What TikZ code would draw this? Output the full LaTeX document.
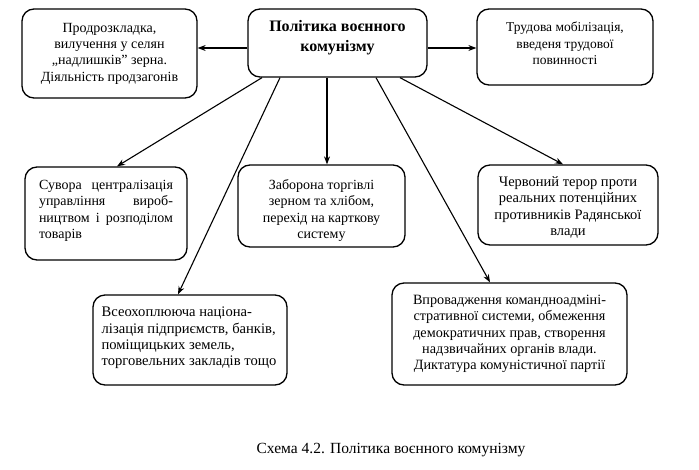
\documentclass[tikz,border=0pt]{standalone}
\usepackage{fontspec}
\setmainfont{Liberation Serif}
\usetikzlibrary{arrows.meta}
\begin{document}
\begin{tikzpicture}[x=1pt,y=-1pt,
  box/.style={draw, line width=1.3pt, rounded corners=12pt, inner sep=0pt},
  txt/.style={inner sep=0pt, font=\fontsize{#1}{16.3}\selectfont},
  ttl/.style={inner sep=0pt, font=\fontsize{16}{20}\selectfont\bfseries, align=center},
  capt/.style={inner sep=0pt, font=\fontsize{15.5}{18}\selectfont},
  arr/.style={line width=1.1pt, -{Stealth[length=8pt,width=6pt]}}]
\useasboundingbox (0,0) rectangle (699,469);
\fill[white] (0,0) rectangle (699,469);
% boxes
\node[box, minimum width=175pt, minimum height=89pt] (b1) at (109.5,53.5) {};
\node[box, minimum width=179pt, minimum height=68pt] (c) at (337.5,43) {};
\node[box, minimum width=176pt, minimum height=76pt] (b3) at (565,47) {};
\node[box, minimum width=162pt, minimum height=93pt] (b4) at (106,213.5) {};
\node[box, minimum width=167pt, minimum height=82pt] (b5) at (321.5,206) {};
\node[box, minimum width=180pt, minimum height=80pt] (b6) at (568,205) {};
\node[box, minimum width=194pt, minimum height=90pt] (b7) at (190,340) {};
\node[box, minimum width=235pt, minimum height=102pt] (b8) at (509.5,334) {};
% texts
\node[txt=14, align=center] (t1) at (b1.center) {Продрозкладка,\\вилучення у селян\\„надлишків” зерна.\\Діяльність продзагонів};
\node[ttl] (tc) at ([yshift=5pt]c.center) {Політика воєнного\\комунізму};
\node[txt=13.5, align=center] (t3) at ([yshift=3.5pt]b3.center) {Трудова мобілізація,\\введеня трудової\\повинності};
\node[txt=14, align=justify, text width=134pt] (t4) at ([yshift=2.5pt]b4.center) {Сувора централізація\linebreak управління вироб-\linebreak ництвом і розподілом\linebreak товарів};
\node[txt=14, align=center] (t5) at ([yshift=-4.5pt]b5.center) {Заборона торгівлі\\зерном та хлібом,\\перехід на карткову\\систему};
\node[txt=14.5, align=center] (t6) at ([yshift=-2.5pt]b6.center) {Червоний терор проти\\реальних потенційних\\противників Радянської\\влади};
\node[txt=14.6, align=left] (t7) at ([xshift=-1pt,yshift=2pt]b7.center) {Всеохоплююча націона-\\лізація підприємств, банків,\\поміщицьких земель,\\торговельних закладів тощо};
\node[txt=14.2, align=center] (t8) at (b8.center) {Впровадження командноадміні-\\стративної системи, обмеження\\демократичних прав, створення\\надзвичайних органів влади.\\Диктатура комуністичної партії};
% connectors
\draw[arr] ([yshift=-5pt]c.west) -- ([yshift=-5pt]c.west -| b1.east);
\draw[arr] ([yshift=-5pt]c.east) -- ([yshift=-5pt]c.east -| b3.west);
\draw[arr] ([xshift=-75.5pt]c.south) -- ([xshift=11pt]b4.north);
\draw[arr] ([xshift=-57.5pt]c.south) -- ([xshift=-12pt]b7.north);
\draw[arr] ([xshift=-10.5pt]c.south) -- ([xshift=-10.5pt]c.south |- b5.north);
\draw[arr] ([xshift=38.5pt]c.south) -- ([xshift=-19.5pt]b8.north);
\draw[arr] ([xshift=62.5pt]c.south) -- ([xshift=-5pt]b6.north);
% caption
\node[capt] (cap) at (391,450) {Схема 4.2. Політика воєнного комунізму};
\end{tikzpicture}
\end{document}
